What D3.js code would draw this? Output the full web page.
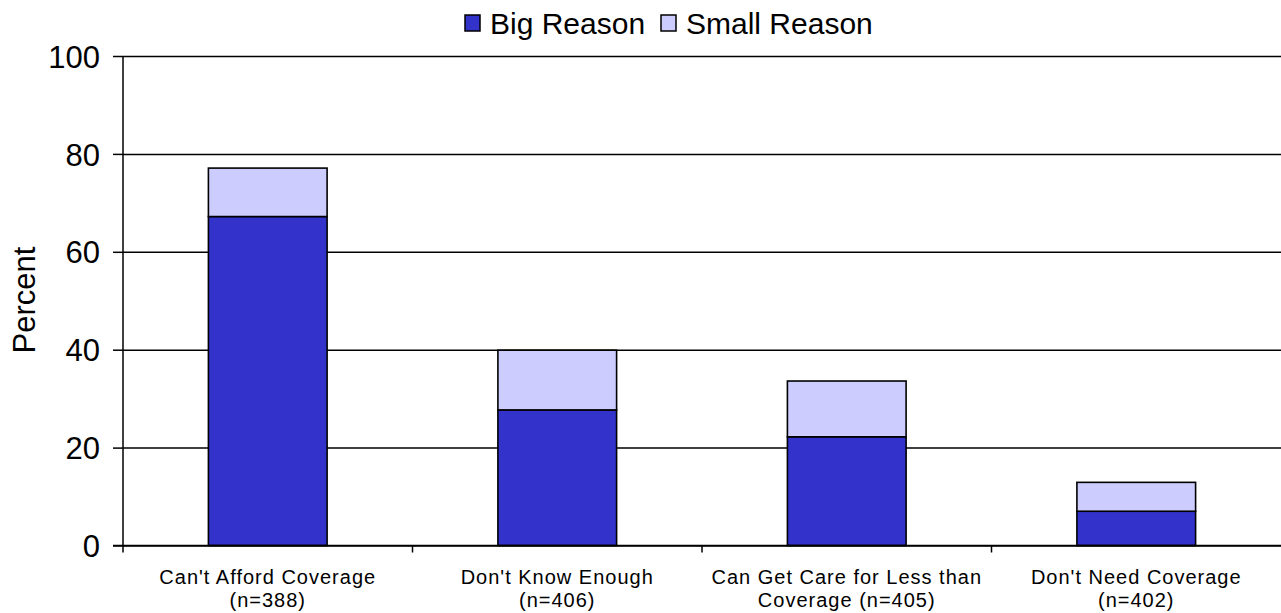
<!DOCTYPE html>
<html>
<head>
<meta charset="utf-8">
<script src="https://cdn.jsdelivr.net/npm/d3@7"></script>
<style>
  body { margin: 0; background: #fff; }
  svg { display: block; font-family: "Liberation Sans", Arial, sans-serif; }
</style>
</head>
<body>
<svg id="chart" width="1281" height="613"></svg>
<script>
const categories = [
  ["Can't Afford Coverage", "(n=388)"],
  ["Don't Know Enough", "(n=406)"],
  ["Can Get Care for Less than", "Coverage (n=405)"],
  ["Don't Need Coverage", "(n=402)"]
]
const bigReason = [67.2, 27.7, 22.2, 7.0]
const smallReason = [9.9, 12.2, 11.4, 5.9]
const seriesNames = ["Big Reason", "Small Reason"]
const seriesColors = ["#3333cc", "#ccccff"]
const yTicks = [0, 20, 40, 60, 80, 100]

const svg = d3.select('#chart')
const plotLeft = 123, plotRight = 1281, plotTop = 56, plotBottom = 545.5

const x = d3.scaleBand().domain(d3.range(categories.length)).range([plotLeft, plotRight]).padding(0)
const y = d3.scaleLinear().domain([0, 100]).range([plotBottom, plotTop])
const barW = x.bandwidth() * 0.41

// gridlines + y ticks
svg.append('g')
  .attr('transform', `translate(${plotLeft},0)`)
  .call(d3.axisLeft(y).tickValues(yTicks).tickSize(10).tickPadding(13))
  .call(g => g.select('.domain').remove())
  .call(g => g.selectAll('.tick line').attr('stroke', '#000').attr('stroke-width', 1.5))
  .call(g => g.selectAll('.tick').append('line')
    .attr('x1', 0).attr('x2', plotRight - plotLeft)
    .attr('stroke', '#000').attr('stroke-width', 1.5))
  .call(g => g.selectAll('.tick text').attr('fill', '#000').attr('font-size', 31).attr('dy', '0.36em'))

// stacked bars
const stackData = categories.map((c, i) => ({ i: i, big: bigReason[i], small: smallReason[i] }))
const stack = d3.stack().keys(['big', 'small'])(stackData)

svg.append('g').selectAll('g')
  .data(stack)
  .join('g')
  .attr('fill', (d, k) => seriesColors[k])
  .selectAll('rect')
  .data(d => d)
  .join('rect')
  .attr('x', d => x(d.data.i) + (x.bandwidth() - barW) / 2)
  .attr('width', barW)
  .attr('y', d => y(d[1]))
  .attr('height', d => y(d[0]) - y(d[1]))
  .attr('stroke', '#000')
  .attr('stroke-width', 1.6)

// axes lines
svg.append('line')
  .attr('x1', plotLeft).attr('x2', plotLeft).attr('y1', plotTop).attr('y2', plotBottom)
  .attr('stroke', '#000').attr('stroke-width', 1.5)

const xAxis = svg.append('g').attr('transform', `translate(0,${plotBottom})`)
xAxis.append('line').attr('x1', plotLeft - 10).attr('x2', plotRight)
  .attr('stroke', '#000').attr('stroke-width', 1.5)
xAxis.selectAll('line.tk')
  .data(d3.range(categories.length))
  .join('line')
  .attr('class', 'tk')
  .attr('x1', d => x(d)).attr('x2', d => x(d))
  .attr('y1', 0).attr('y2', 7)
  .attr('stroke', '#000').attr('stroke-width', 1.5)

xAxis.selectAll('text')
  .data(categories)
  .join('text')
  .attr('text-anchor', 'middle')
  .attr('font-size', 20)
  .attr('letter-spacing', 1)
  .attr('fill', '#000')
  .each(function (d, i) {
    const t = d3.select(this)
    d.forEach((line, j) => {
      t.append('tspan')
        .attr('x', x(i) + x.bandwidth() / 2)
        .attr('y', 38 + j * 23)
        .text(line)
    })
  })

// y title
svg.append('text')
  .attr('transform', 'translate(35,300) rotate(-90)')
  .attr('text-anchor', 'middle')
  .attr('font-size', 31)
  .attr('fill', '#000')
  .text('Percent')

// legend
const legendX = [465, 661]
const legend = svg.append('g').selectAll('g')
  .data(seriesNames)
  .join('g')
  .attr('transform', (d, i) => `translate(${legendX[i]},15)`)
legend.append('rect')
  .attr('width', 15).attr('height', 16)
  .attr('fill', (d, i) => seriesColors[i])
  .attr('stroke', '#000').attr('stroke-width', 1.5)
legend.append('text')
  .attr('x', 25).attr('y', 19)
  .attr('font-size', 30)
  .attr('fill', '#000')
  .text(d => d)
</script>
</body>
</html>
